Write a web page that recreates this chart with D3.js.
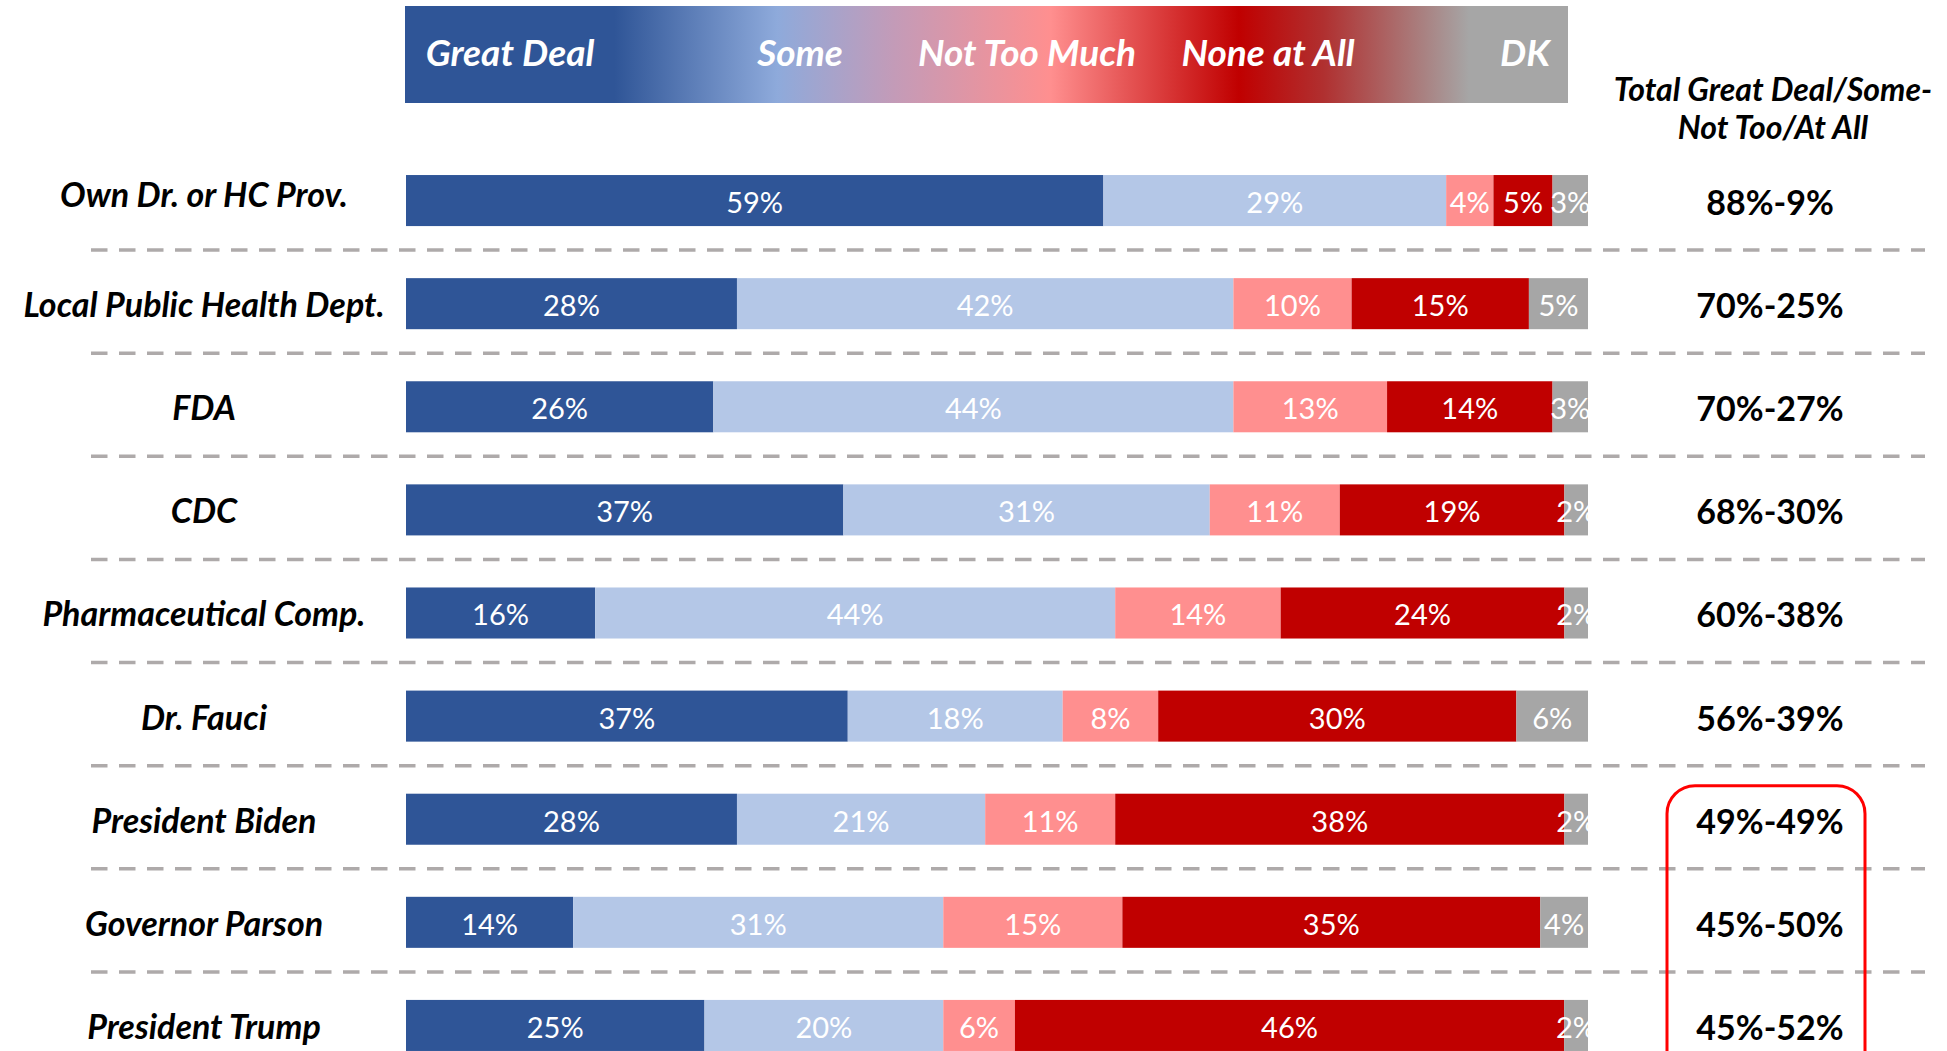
<!DOCTYPE html>
<html>
<head>
<meta charset="utf-8">
<script src="https://cdn.jsdelivr.net/npm/d3@7"></script>
<style>
  body { margin: 0; background: #fff; }
  svg { display: block; font-family: Lato, "Open Sans", sans-serif; }
</style>
</head>
<body>
<svg id="chart"></svg>
<script>
// data
const categories = [
  'Own Dr. or HC Prov.',
  'Local Public Health Dept.',
  'FDA',
  'CDC',
  'Pharmaceutical Comp.',
  'Dr. Fauci',
  'President Biden',
  'Governor Parson',
  'President Trump'
]
const seriesNames = ['Great Deal', 'Some', 'Not Too Much', 'None at All', 'DK']
const greatDeal = [59, 28, 26, 37, 16, 37, 28, 14, 25]
const some = [29, 42, 44, 31, 44, 18, 21, 31, 20]
const notTooMuch = [4, 10, 13, 11, 14, 8, 11, 15, 6]
const noneAtAll = [5, 15, 14, 19, 24, 30, 38, 35, 46]
const dontKnow = [3, 5, 3, 2, 2, 6, 2, 4, 2]
const totalTrust = ['88%', '70%', '70%', '68%', '60%', '56%', '49%', '45%', '45%']
const totalDistrust = ['9%', '25%', '27%', '30%', '38%', '39%', '49%', '50%', '52%']
const highlighted = ['President Biden', 'Governor Parson', 'President Trump']

const width = 1947
const height = 1051
const colors = ['#2F5597', '#B4C7E7', '#FF8F8F', '#C00000', '#A6A6A6']

const svg = d3.select('#chart')
    .attr('width', width)
    .attr('height', height)

const series = [greatDeal, some, notTooMuch, noneAtAll, dontKnow]
const rows = categories.map((c, i) => {
    const vals = series.map(s => s[i])
    let acc = 0
    const segs = vals.map((v, k) => {
        const s = { k, v, x0: acc, x1: acc + v }
        acc += v
        return s
    })
    return { name: c, segs, total: acc, i }
})

const barLeft = 406
const barRight = 1588

const yScale = d3.scaleBand()
    .domain(categories)
    .range([149, 1077])
    .paddingInner(0.505)
    .paddingOuter(0.2525)

// legend bar with gradient
const defs = svg.append('defs')
const grad = defs.append('linearGradient')
    .attr('id', 'legendGrad')
    .attr('x1', '0%').attr('x2', '100%')
const stops = [
    [0, '#2F5597'], [0.18, '#2F5597'], [0.32, '#8EAADB'], [0.42, '#C39BB8'],
    [0.555, '#FF8F8F'], [0.717, '#C00000'], [0.79, '#B03030'], [0.915, '#A6A6A6'], [1, '#A6A6A6']
]
stops.forEach(s => grad.append('stop').attr('offset', s[0]).attr('stop-color', s[1]))

svg.append('rect')
    .attr('x', 405).attr('y', 6)
    .attr('width', 1163).attr('height', 97)
    .attr('fill', 'url(#legendGrad)')

const legendX = [510, 800, 1027, 1268, 1525]
svg.selectAll('.legend-label')
    .data(seriesNames)
    .enter()
    .append('text')
    .attr('class', 'legend-label')
    .attr('x', (d, i) => legendX[i])
    .attr('y', 51)
    .attr('text-anchor', 'middle')
    .attr('dominant-baseline', 'central')
    .attr('fill', '#fff')
    .attr('font-size', 37)
    .attr('font-weight', 'bold')
    .attr('font-style', 'italic')
    .text(d => d)

// right column header
svg.append('text')
    .attr('x', 1773)
    .attr('text-anchor', 'middle')
    .attr('font-size', 32)
    .attr('font-weight', 'bold')
    .attr('font-style', 'italic')
    .selectAll('tspan')
    .data(['Total Great Deal/Some-', 'Not Too/At All'])
    .enter()
    .append('tspan')
    .attr('x', 1773)
    .attr('y', (d, i) => 101 + i * 38)
    .text(d => d)

// dashed separators
svg.selectAll('.sep')
    .data(categories.slice(1))
    .enter()
    .append('line')
    .attr('class', 'sep')
    .attr('x1', 91).attr('x2', 1925)
    .attr('y1', d => yScale(d) - yScale.step() * yScale.paddingInner() / 2 - 2)
    .attr('y2', d => yScale(d) - yScale.step() * yScale.paddingInner() / 2 - 2)
    .attr('stroke', '#AEAAAA')
    .attr('stroke-width', 3.5)
    .attr('stroke-dasharray', '16.5 11.5')

defs.append('clipPath')
    .attr('id', 'barClip')
    .append('rect')
    .attr('x', barLeft).attr('y', 0)
    .attr('width', barRight - barLeft).attr('height', height)

const rowG = svg.selectAll('.row')
    .data(rows)
    .enter()
    .append('g')
    .attr('class', 'row')
    .attr('transform', d => `translate(0,${yScale(d.name)})`)

rowG.each(function (row) {
    const g = d3.select(this)
    const x = d3.scaleLinear().domain([0, row.total]).range([barLeft, barRight])
    const bh = yScale.bandwidth()

    g.selectAll('rect')
        .data(row.segs)
        .enter()
        .append('rect')
        .attr('x', d => x(d.x0))
        .attr('y', 0)
        .attr('width', d => x(d.x1) - x(d.x0))
        .attr('height', bh)
        .attr('fill', d => colors[d.k])

    g.append('g')
        .attr('clip-path', 'url(#barClip)')
        .selectAll('text')
        .data(row.segs)
        .enter()
        .append('text')
        .attr('x', d => (x(d.x0) + x(d.x1)) / 2)
        .attr('y', bh / 2 + 1)
        .attr('text-anchor', 'middle')
        .attr('dominant-baseline', 'central')
        .attr('fill', '#fff')
        .attr('font-size', 29)
        .text(d => d.v + '%')

    g.append('text')
        .attr('x', 204)
        .attr('y', bh / 2 - (row.i === 0 ? 7 : 0))
        .attr('text-anchor', 'middle')
        .attr('dominant-baseline', 'central')
        .attr('font-size', 34)
        .attr('font-weight', 'bold')
        .attr('font-style', 'italic')
        .attr('fill', '#000')
        .text(row.name)

    g.append('text')
        .attr('x', 1770)
        .attr('y', bh / 2 + 1)
        .attr('text-anchor', 'middle')
        .attr('dominant-baseline', 'central')
        .attr('font-size', 34)
        .attr('font-weight', 'bold')
        .attr('fill', '#000')
        .text(totalTrust[row.i] + '-' + totalDistrust[row.i])
})

// red highlight box around the last rows' totals
const boxTop = yScale(highlighted[0]) - 8
svg.append('rect')
    .attr('x', 1667)
    .attr('y', boxTop)
    .attr('width', 198)
    .attr('height', 300)
    .attr('rx', 28)
    .attr('fill', 'none')
    .attr('stroke', '#FF0000')
    .attr('stroke-width', 3)
</script>
</body>
</html>
